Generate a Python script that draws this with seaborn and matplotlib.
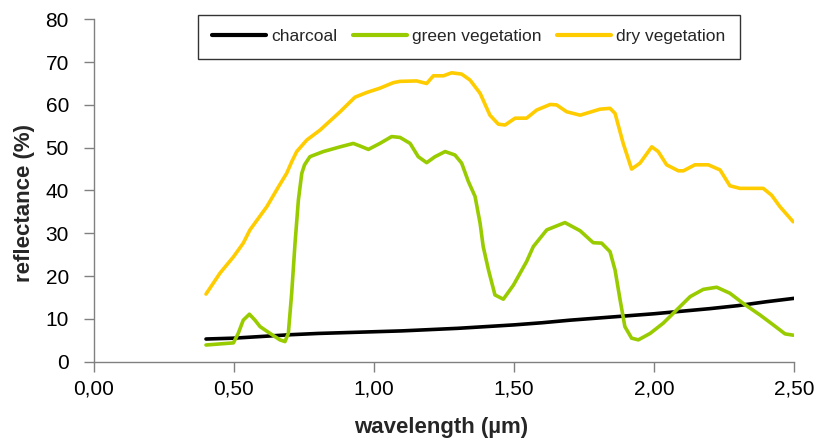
import numpy as np
import pandas as pd
import matplotlib
matplotlib.use("Agg")
import matplotlib.pyplot as plt
import seaborn as sns
from matplotlib.ticker import FuncFormatter

# ---- data ----
charcoal_x = [0.40, 0.50, 0.60, 0.70, 0.80, 0.90, 1.00, 1.10, 1.20, 1.30, 1.40,
              1.50, 1.60, 1.70, 1.80, 1.90, 2.00, 2.10, 2.20, 2.30, 2.40, 2.50]
charcoal_y = [5.3, 5.5, 5.9, 6.3, 6.6, 6.8, 7.0, 7.2, 7.5, 7.8, 8.2,
              8.6, 9.1, 9.7, 10.2, 10.7, 11.2, 11.8, 12.4, 13.1, 14.0, 14.8]

green_x = [0.40, 0.498, 0.515, 0.533, 0.555, 0.575, 0.593, 0.629, 0.664, 0.682,
           0.694, 0.706, 0.718, 0.730, 0.742, 0.752, 0.771, 0.819, 0.879, 0.926,
           0.950, 0.980, 1.021, 1.063, 1.093, 1.129, 1.158, 1.188, 1.218, 1.254,
           1.289, 1.313, 1.337, 1.361, 1.379, 1.390, 1.409, 1.432, 1.462, 1.498,
           1.545, 1.569, 1.617, 1.682, 1.736, 1.783, 1.813, 1.843, 1.861, 1.879,
           1.896, 1.920, 1.944, 1.986, 2.033, 2.081, 2.129, 2.176, 2.224, 2.271,
           2.319, 2.379, 2.426, 2.468, 2.497]
green_y = [3.9, 4.4, 6.6, 9.7, 11.1, 9.7, 8.2, 6.6, 5.1, 4.7,
           6.6, 16.0, 27.7, 37.8, 44.0, 46.0, 47.9, 49.1, 50.2, 51.0,
           50.4, 49.6, 51.0, 52.6, 52.4, 51.0, 47.9, 46.5, 47.9, 49.1,
           48.3, 46.4, 42.1, 38.6, 32.3, 26.9, 21.4, 15.6, 14.6, 17.9,
           23.4, 26.9, 30.8, 32.5, 30.6, 27.8, 27.7, 25.7, 21.4, 14.4,
           8.2, 5.5, 5.1, 6.6, 9.0, 12.1, 15.2, 16.9, 17.4, 16.0,
           13.6, 10.9, 8.6, 6.5, 6.2]

dry_x = [0.40, 0.45, 0.498, 0.533, 0.557, 0.617, 0.660, 0.688, 0.706, 0.724,
         0.760, 0.807, 0.879, 0.932, 0.974, 1.021, 1.069, 1.093, 1.152, 1.188,
         1.212, 1.248, 1.277, 1.313, 1.343, 1.379, 1.414, 1.444, 1.468, 1.504,
         1.545, 1.581, 1.629, 1.652, 1.688, 1.736, 1.807, 1.843, 1.861, 1.890,
         1.920, 1.950, 1.992, 2.015, 2.045, 2.087, 2.105, 2.146, 2.194, 2.236,
         2.271, 2.307, 2.355, 2.390, 2.420, 2.450, 2.497]
dry_y = [15.8, 20.7, 24.5, 27.7, 30.8, 36.2, 41.0, 44.0, 46.7, 49.1,
         51.8, 54.1, 58.4, 61.8, 62.9, 63.9, 65.2, 65.5, 65.6, 65.0,
         66.8, 66.8, 67.5, 67.2, 65.8, 62.7, 57.6, 55.5, 55.3, 56.9,
         56.9, 58.8, 60.1, 60.0, 58.4, 57.6, 59.0, 59.2, 58.0, 51.0,
         45.0, 46.4, 50.2, 49.1, 46.0, 44.6, 44.6, 46.0, 46.0, 44.8,
         41.1, 40.5, 40.5, 40.5, 38.9, 36.2, 32.7]

series_names = ["charcoal", "green vegetation", "dry vegetation"]
series_colors = ["#000000", "#99CC00", "#FFCC00"]
x_ticks = [0.0, 0.5, 1.0, 1.5, 2.0, 2.5]
y_ticks = [0, 10, 20, 30, 40, 50, 60, 70, 80]

df = pd.concat([
    pd.DataFrame({"wavelength": charcoal_x, "reflectance": charcoal_y, "series": series_names[0]}),
    pd.DataFrame({"wavelength": green_x, "reflectance": green_y, "series": series_names[1]}),
    pd.DataFrame({"wavelength": dry_x, "reflectance": dry_y, "series": series_names[2]}),
], ignore_index=True)

sns.set_style("white")
plt.rcParams["font.family"] = ["Liberation Sans", "DejaVu Sans"]

fig = plt.figure(figsize=(8.18, 4.41), dpi=100)
ax = fig.add_axes([94 / 818, 1 - 361.7 / 441, 700 / 818, 342.4 / 441])

sns.lineplot(data=df, x="wavelength", y="reflectance", hue="series",
             hue_order=series_names, palette=dict(zip(series_names, series_colors)),
             estimator=None, sort=True, linewidth=2.6, ax=ax, legend=True)
for ln in ax.get_lines():
    ln.set_solid_joinstyle("round")
    ln.set_solid_capstyle("round")

ax.set_xlim(0, 2.5)
ax.set_ylim(0, 80)
ax.set_xticks(x_ticks)
ax.set_yticks(y_ticks)
ax.xaxis.set_major_formatter(FuncFormatter(lambda v, p: f"{v:.2f}".replace(".", ",")))
ax.tick_params(axis="both", which="major", labelsize=15, length=7, width=1,
               color="#808080", direction="out", labelcolor="black")
ax.tick_params(axis="y", pad=11)
ax.tick_params(axis="x", pad=6)
ax.tick_params(left=True, bottom=True)
for side in ["top", "right"]:
    ax.spines[side].set_visible(False)
for side in ["left", "bottom"]:
    ax.spines[side].set_color("#808080")
    ax.spines[side].set_linewidth(1)

ax.set_xlabel("wavelength (\u00b5m)", fontsize=16, fontweight="bold")
ax.set_ylabel("reflectance (%)", fontsize=16, fontweight="bold")
ax.xaxis.label.set_va("center")
ax.yaxis.label.set_va("center")
ax.xaxis.set_label_coords((441 - 94) / 700, (361.7 - 428) / 342.4)
ax.yaxis.set_label_coords((25 - 94) / 700, (361.7 - 203.5) / 342.4)

ax.get_legend().remove()
handles, labels = ax.get_legend_handles_labels()
leg = fig.legend(handles, labels, loc="upper left",
                 bbox_to_anchor=(198 / 818, 1 - 15 / 441),
                 ncol=3, fontsize=12.5, frameon=True, fancybox=False,
                 handlelength=3.1, handletextpad=0.3, columnspacing=0.9,
                 borderpad=0.82, borderaxespad=0)
leg.get_frame().set_edgecolor("black")
leg.get_frame().set_linewidth(1)
for line in leg.get_lines():
    line.set_linewidth(3)

fig.savefig("out.png", dpi=100)
